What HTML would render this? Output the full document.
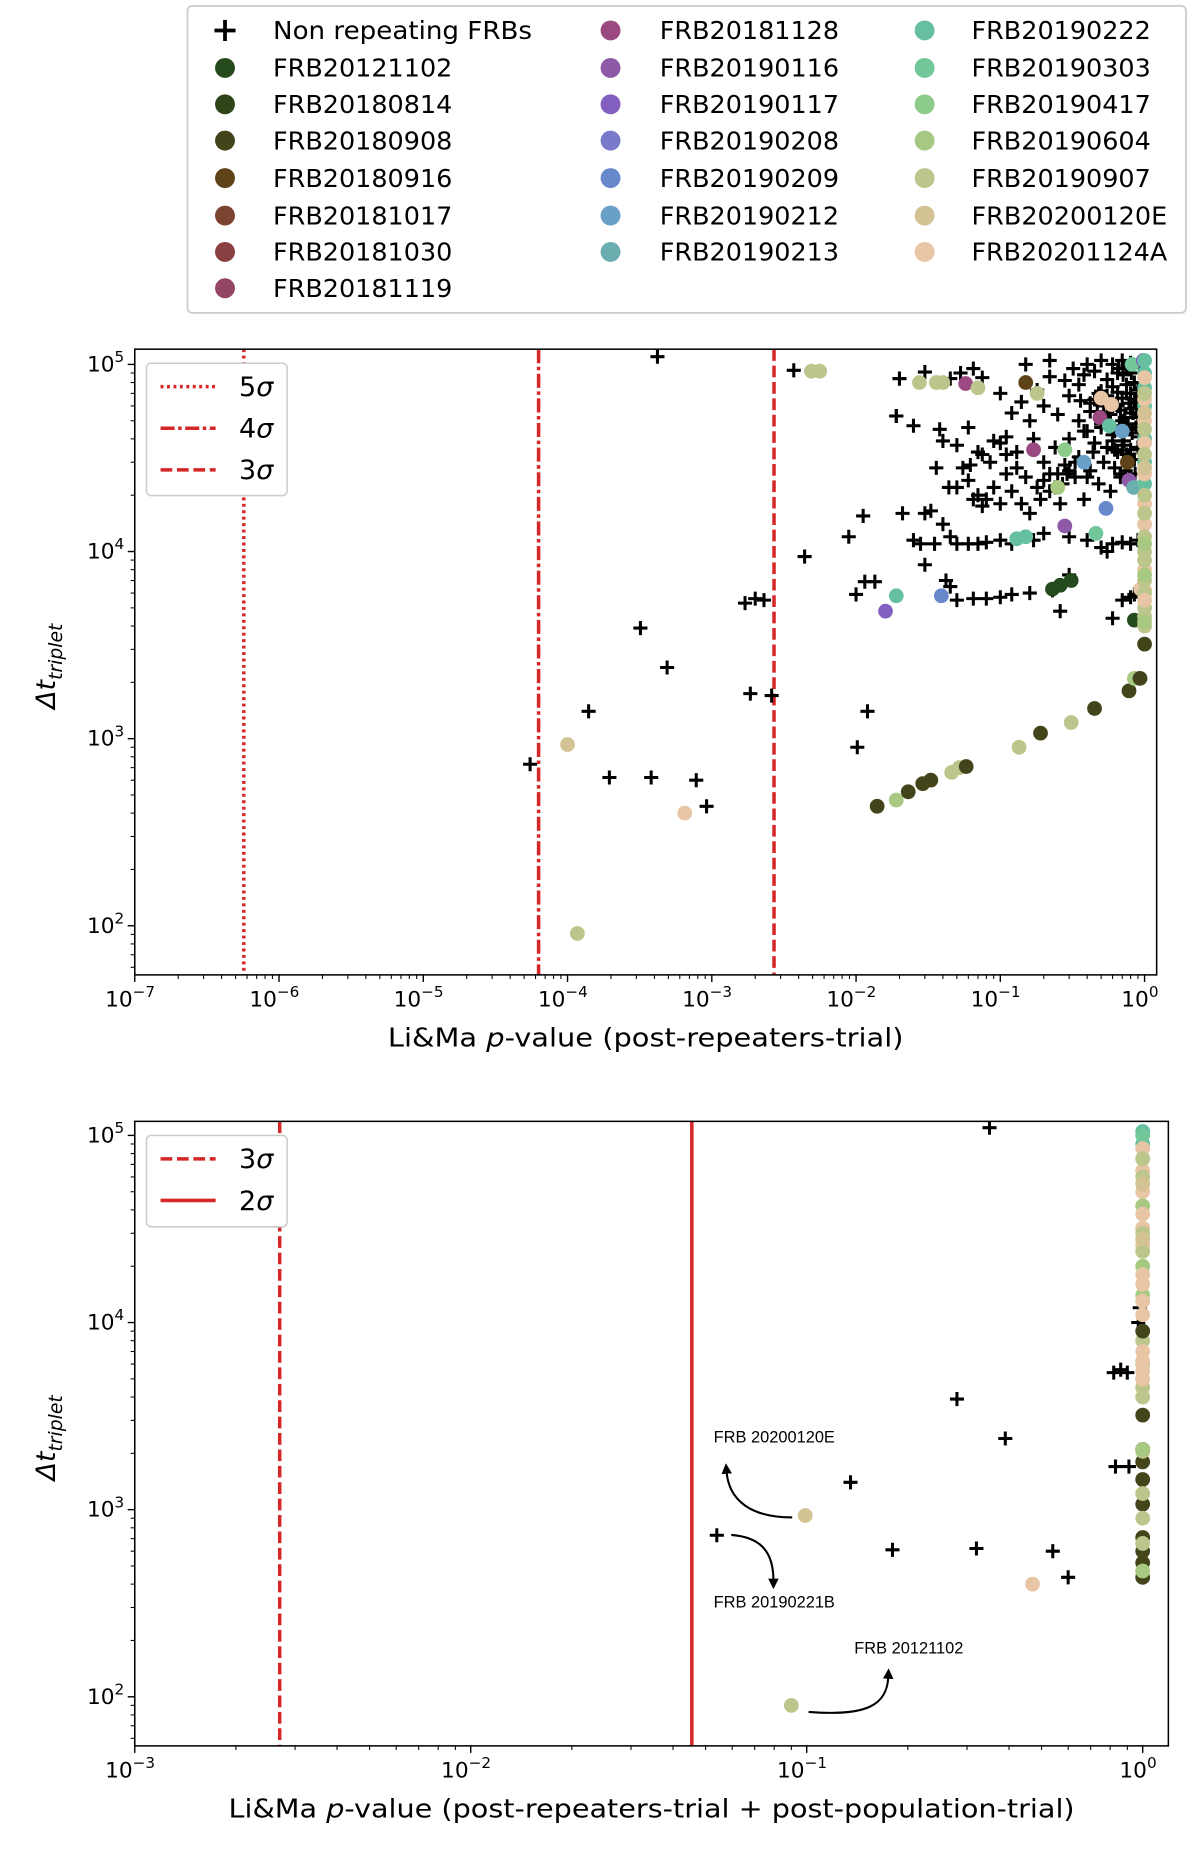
<!DOCTYPE html>
<html><head><meta charset="utf-8"><style>
html,body{margin:0;padding:0;background:#fff;}
svg{display:block;font-family:"DejaVu Sans","Liberation Sans",sans-serif;}
</style></head><body>
<svg id="fig" width="1200" height="1849" viewBox="0 0 1024 1578" preserveAspectRatio="none" xmlns="http://www.w3.org/2000/svg">
<defs>
<clipPath id="clipTop"><rect x="115" y="298" width="872" height="534"/></clipPath>
<clipPath id="clipBot"><rect x="115" y="957" width="882" height="533"/></clipPath>
<marker id="arrowHead" viewBox="0 0 10 10" refX="2" refY="5" markerWidth="5" markerHeight="5" orient="auto"><path d="M0,0 L10,5 L0,10 z" fill="#000"/></marker>
</defs>
<g id="legendMain"></g>
<g id="topPlot"></g>
<g id="botPlot"></g>
</svg>
<script>
const NS="http://www.w3.org/2000/svg";
const frbNames=["FRB20121102","FRB20180814","FRB20180908","FRB20180916","FRB20181017","FRB20181030","FRB20181119","FRB20181128","FRB20190116","FRB20190117","FRB20190208","FRB20190209","FRB20190212","FRB20190213","FRB20190222","FRB20190303","FRB20190417","FRB20190604","FRB20190907","FRB20200120E","FRB20201124A"];
const frbColors=["#254a1e","#2f4418","#44441a","#5e4218","#7a4430","#8a3f40","#944566","#9a4a80","#8e5aa8","#8360bf","#7a7acb","#6888cc","#69a0c8","#6aaeb0","#66c0a0","#72c79a","#8ccb8a","#a8c982","#bcc68c","#d3c394","#e8c5a5"];

// Top: non-repeating FRBs (p-value, dt)
const topNrP=[4.2e-4,3.7e-3,5.5e-5,1.4e-4,1.95e-4,3.8e-4,3.2e-4,4.9e-4,7.8e-4,9.2e-4,1.7e-3,2.0e-3,2.3e-3,1.85e-3,2.6e-3,4.4e-3,1.02e-2,1.2e-2,8.9e-3,1.12e-2,1.0e-2,1.15e-2,1.35e-2,2.0e-2,1.9e-2,
0.021,0.025,0.03,0.033,0.04,0.028,0.035,0.045,0.05,0.06,0.07,0.08,0.03,0.045,0.05,0.042,0.065,0.08,0.1,0.12,0.16,0.23,0.26,0.7,0.8,0.6,0.3,0.5,0.55,0.6,0.7,0.8,0.4,0.3,0.2,0.17,0.12,0.1,
0.05,0.055,0.06,0.065,0.07,0.075,0.08,0.085,0.09,0.1,0.11,0.12,0.13,0.14,0.15,0.16,0.18,0.2,0.22,0.24,0.26,0.28,0.3,0.33,0.35,0.38,0.4,0.42,0.45,0.48,0.5,0.52,0.55,0.58,0.6,0.62,0.65,0.68,0.7,0.72,0.75,0.78,0.8,0.82,0.85,0.88,0.9,0.92,0.95,0.96,
0.09,0.1,0.11,0.07,0.075,0.04,0.06,0.12,0.14,0.16,0.18,0.2,0.22,0.25,0.28,0.3,0.32,0.35,0.38,0.4,0.42,0.45,0.48,0.5,0.55,0.6,0.65,0.7,0.75,0.8,0.22,0.15,0.045,0.053,0.065,0.075,0.03,0.019,0.025,0.038,0.05,0.036,0.044,0.062,0.02,0.1,0.11,0.13,0.17,0.9,0.93,0.85,
0.45,0.5,0.55,0.6,0.65,0.7,0.75,0.8,0.85,0.9,0.47,0.52,0.58,0.63,0.68,0.73,0.78,0.83,0.88,0.93,0.5,0.56,0.62,0.67,0.72,0.77,0.82,0.87,0.92,0.55,0.6,0.65,0.7,0.75,0.8,0.85,0.9,0.35,0.38,0.42,0.44,0.33,0.36,0.4,0.3,0.27,0.25,0.22,0.2,0.19,0.24,0.29,0.62,0.68,0.74,0.86,0.66,0.71,0.76,0.81];
const topNrT=[1.1e5,9.3e4,730,1400,620,620,3900,2400,600,435,5300,5600,5500,1740,1700,9400,900,1400,1.2e4,1.55e4,5900,6900,6900,8.4e4,5.3e4,
1.6e4,1.15e4,1.6e4,1.65e4,1.4e4,1.1e4,1.1e4,1.2e4,1.1e4,1.1e4,1.1e4,1.12e4,8.5e3,6.5e3,5.5e3,7e3,5.6e3,5.6e3,5.7e3,5.9e3,6e3,6.2e3,4.8e3,5.5e3,5.7e3,4.4e3,7.5e3,1.05e4,1.0e4,1.1e4,1.12e4,1.1e4,1.15e4,1.2e4,1.25e4,1.15e4,1.1e4,1.15e4,
2.2e4,2.8e4,2.4e4,1.9e4,2.0e4,1.75e4,1.9e4,3.0e4,2.2e4,1.8e4,2.6e4,2.1e4,3.4e4,1.8e4,2.5e4,1.6e4,2.2e4,3.0e4,2.6e4,3.6e4,1.8e4,2.9e4,4.0e4,2.5e4,3.2e4,1.9e4,4.4e4,2.7e4,3.8e4,2.3e4,4.8e4,3.0e4,5.5e4,2.1e4,4.2e4,3.5e4,6.0e4,2.6e4,5.0e4,3.9e4,7.0e4,3.2e4,5.8e4,4.5e4,8.0e4,6.5e4,5.2e4,9.0e4,7.5e4,6.0e4,
3.9e4,3.8e4,4.1e4,3.4e4,3.3e4,3.9e4,4.6e4,5.5e4,6.3e4,5.0e4,7.3e4,6.0e4,8.6e4,5.4e4,8.2e4,6.8e4,9.5e4,7.8e4,8.8e4,1.0e5,6.2e4,9.2e4,7.0e4,1.05e5,8.3e4,1.0e5,9.0e4,1.05e5,9.5e4,1.02e5,1.05e5,1.0e5,8.4e4,9.0e4,9.5e4,8.5e4,9.1e4,5.3e4,4.7e4,4.5e4,3.7e4,2.8e4,2.2e4,2.9e4,8.4e4,7.0e4,3.3e4,2.8e4,4.0e4,1.15e4,1.1e4,5.9e3,
6.5e4,7.2e4,6.8e4,7.6e4,7.1e4,6.6e4,7.8e4,7.0e4,6.4e4,7.3e4,5.6e4,6.0e4,5.4e4,6.1e4,5.7e4,5.2e4,6.2e4,5.5e4,5.9e4,5.3e4,4.6e4,4.9e4,4.4e4,4.7e4,4.2e4,4.8e4,4.3e4,4.6e4,4.1e4,3.6e4,3.9e4,3.4e4,3.7e4,3.3e4,3.5e4,3.1e4,3.6e4,5.0e4,4.4e4,5.6e4,3.4e4,3.0e4,6.4e4,2.5e4,2.7e4,2.3e4,2.6e4,2.1e4,2.4e4,1.9e4,2.2e4,2.6e4,2.8e4,2.5e4,2.7e4,2.6e4,9.5e4,8.8e4,9.8e4,9.0e4];

// Top: repeaters (p-value, dt, FRB index)
const topRepP=[1.4e-2,1.9e-2,2.3e-2,2.9e-2,3.3e-2,4.6e-2,5.2e-2,5.8e-2,0.135,0.19,0.31,0.45,0.78,0.85,0.93,1.0,1.17e-4,1.0e-4,6.5e-4,4.9e-3,5.6e-3,
2.75e-2,3.6e-2,4.0e-2,0.0575,0.07,0.15,0.18,0.17,0.28,0.25,0.38,0.54,0.28,0.46,0.15,0.13,1.9e-2,1.6e-2,3.9e-2,0.23,0.26,0.31,0.49,0.57,0.7,0.5,0.59,0.82,0.98,0.78,0.84,0.76,0.94,0.85,
1.0,1.0,1.0,1.0,1.0,1.0,1.0,1.0,1.0,1.0,1.0,1.0,1.0,1.0,1.0,1.0,1.0,1.0,1.0,1.0,1.0,1.0,1.0,1.0,1.0,1.0,1.0,1.0,1.0,1.0,1.0,1.0,1.0,1.0,1.0];
const topRepT=[435,470,520,575,600,660,700,710,900,1070,1220,1450,1800,2100,2100,3200,91,930,400,9.2e4,9.2e4,
8.0e4,8.0e4,8.0e4,7.9e4,7.5e4,8.0e4,7.0e4,3.5e4,3.5e4,2.2e4,3.0e4,1.7e4,1.37e4,1.25e4,1.2e4,1.17e4,5.8e3,4.8e3,5.8e3,6.3e3,6.6e3,7.0e3,5.2e4,4.7e4,4.4e4,6.6e4,6.1e4,1.0e5,1.05e5,2.4e4,2.2e4,3.0e4,6.3e3,4.3e3,
1.05e5,9.0e4,7.5e4,6.0e4,4.0e4,3.0e4,2.3e4,8.5e4,6.5e4,5.0e4,3.8e4,2.6e4,1.8e4,1.4e4,8.0e3,6.2e3,7.0e4,4.5e4,3.3e4,2.0e4,1.6e4,1.2e4,1.0e4,9.0e3,7.0e3,5.0e3,4.5e3,4.0e3,5.5e4,2.8e4,1.1e4,7.5e3,4.2e3,6.0e3,5.5e3];
const topRepI=[2,17,2,2,2,18,18,2,18,2,18,2,2,17,2,2,18,19,20,18,18,
18,18,18,7,18,3,18,7,16,17,12,11,8,15,14,14,14,9,11,0,0,0,7,14,12,20,20,15,9,8,13,3,20,0,
14,14,14,14,14,14,14,20,20,20,20,20,20,20,20,20,18,18,18,18,18,18,18,18,18,18,18,18,19,19,17,17,17,18,20];

// Bottom: non-repeating FRBs
const botNrP=[0.35,0.82,0.86,0.9,0.28,0.39,0.135,0.054,0.18,0.32,0.54,0.6,0.83,0.91,0.97,0.98];
const botNrT=[1.1e5,5400,5600,5400,3900,2400,1400,730,610,620,600,435,1700,1700,1.0e4,1.2e4];
// Bottom: repeaters
const botRepP=[0.099,0.47,0.09,
1.0,1.0,1.0,1.0,1.0,1.0,1.0,1.0,1.0,1.0,1.0,1.0,1.0,1.0,1.0,1.0,1.0,1.0,1.0,1.0,1.0,1.0,1.0,1.0,1.0,1.0,1.0,1.0,1.0,1.0,1.0,1.0,1.0,1.0,1.0,1.0,1.0,1.0,1.0,1.0,1.0,1.0,1.0,1.0,1.0,1.0,1.0,1.0,1.0,1.0];
const botRepT=[930,400,90,
1.05e5,9.0e4,7.5e4,1.0e5,2.0e4,1.4e4,8.0e3,9.0e3,6.0e3,4.5e3,4.0e3,3.2e3,2.1e3,1.8e3,1.45e3,1.07e3,710,600,520,435,2.05e3,1.22e3,900,660,2.1e3,470,
8.5e4,6.5e4,5.0e4,4.2e4,3.8e4,3.2e4,2.6e4,1.8e4,1.6e4,1.3e4,1.1e4,7.0e3,6.2e3,5.5e3,5.0e3,3.0e4,2.4e4,7.5e4,6.0e4,5.5e4,2.8e4];
const botRepI=[19,20,18,
14,14,18,15,17,17,18,2,18,18,18,2,2,2,2,2,2,2,2,2,18,18,18,18,17,17,
20,20,20,17,20,20,20,20,20,20,20,20,20,20,20,18,18,18,18,19,19];

// tick label exponents
const topXExp=[-7,-6,-5,-4,-3,-2,-1,0];
const botXExp=[-3,-2,-1,0];
const yExp=[2,3,4,5];

const svg=document.getElementById('fig');
function el(tag,attrs,parent){const e=document.createElementNS(NS,tag);for(const k in attrs)e.setAttribute(k,attrs[k]);parent.appendChild(e);return e;}

function makeAxes(g,cfg){
  const xs=v=>cfg.x0+(Math.log10(v)-cfg.xmin)*cfg.xdec;
  const ys=v=>cfg.y5+(5-Math.log10(v))*cfg.ydec;
  const data=el('g',{'clip-path':'url(#'+cfg.clip+')'},g);
  cfg.lines.forEach(L=>{
    const ln=el('line',{x1:xs(L.p),x2:xs(L.p),y1:cfg.top,y2:cfg.bot,stroke:'#d62728','stroke-width':3,'stroke-dasharray':L.dash},data);
    
    
  });
  cfg.nrP.forEach((p,i)=>{
    const x=xs(p),y=ys(cfg.nrT[i]);
    const c=el('path',{d:`M${x-6},${y}H${x+6}M${x},${y-6}V${y+6}`,stroke:'#000','stroke-width':2.6},data);
    
    
  });
  cfg.rP.forEach((p,i)=>{
    const c=el('ellipse',{cx:xs(p),cy:ys(cfg.rT[i]),rx:6.3,ry:6.3,fill:frbColors[cfg.rI[i]]},data);
    
    
  });
  const fr=el('rect',{x:cfg.x0,y:cfg.top,width:cfg.right-cfg.x0,height:cfg.bot-cfg.top,fill:'none',stroke:'#000','stroke-width':1.3},g);
  
  
  const xg=el('g',{},g);
  
  
  for(let d=cfg.xmin;d<=0.1;d++){
    for(let m=1;m<10;m++){
      const v=m*Math.pow(10,d);const x=xs(v);
      if(x>cfg.right)break;
      el('line',{x1:x,x2:x,y1:cfg.bot,y2:cfg.bot+(m==1?6:3.5),stroke:'#000','stroke-width':m==1?1.2:0.9},xg);
    }
  }
  cfg.xExp.forEach(e=>{
    const t=el('text',{x:xs(Math.pow(10,e))-4,y:cfg.bot+27,'font-size':18.5,'text-anchor':'middle'},xg);
    t.innerHTML='10<tspan dy="-8" font-size="13">'+(e<0?'−'+(-e):e)+'</tspan>';
    
    
  });
  const yg=el('g',{},g);
  
  
  for(let d=1;d<=5;d++){for(let m=1;m<10;m++){
    const v=m*Math.pow(10,d);const y=ys(v);
    if(y>cfg.bot||y<cfg.top)continue;
    el('line',{x1:cfg.x0,x2:cfg.x0-(m==1?6:3.5),y1:y,y2:y,stroke:'#000','stroke-width':m==1?1.2:0.9},yg);
  }}
  yExp.forEach(e=>{
    const t=el('text',{x:cfg.x0-9,y:ys(Math.pow(10,e))+6,'font-size':18.5,'text-anchor':'end'},yg);
    t.innerHTML='10<tspan dy="-8" font-size="13">'+e+'</tspan>';
    
    
  });
  const yl=el('text',{transform:`translate(${cfg.x0-68},${(cfg.top+cfg.bot)/2+40}) rotate(-90)`,'font-size':23},g);
  yl.innerHTML='<tspan font-style="italic">Δt</tspan><tspan font-style="italic" font-size="16" dy="6">triplet</tspan>';
  
  
  const xl=el('text',{x:cfg.xlabelX,y:cfg.bot+61,'font-size':22,'text-anchor':'middle',textLength:cfg.xlabelW,lengthAdjust:'spacingAndGlyphs'},g);
  xl.innerHTML=cfg.xlabel;
  
  
  const lg=el('g',{},g);
  
  
  const h=cfg.lines.length*35+8;
  el('rect',{x:125,y:cfg.top+12,width:120,height:h,rx:4,fill:'#fff',stroke:'#ccc','stroke-width':1.3},lg);
  cfg.lines.forEach((L,i)=>{
    const y=cfg.top+32+i*35.5;
    el('line',{x1:137,x2:184,y1:y,y2:y,stroke:'#d62728','stroke-width':3,'stroke-dasharray':L.dash},lg);
    const t=el('text',{x:204,y:y+8,'font-size':23},lg);
    t.innerHTML=L.label+'<tspan font-style="italic">σ</tspan>';
    
    
  });
  return {xs,ys};
}

makeAxes(document.getElementById('topPlot'),{x0:115,right:987,top:298,bot:832,xmin:-7,xdec:123.1,y5:311,ydec:159.7,clip:'clipTop',
  nrP:topNrP,nrT:topNrT,rP:topRepP,rT:topRepT,rI:topRepI,xExp:topXExp,
  lines:[{p:5.7e-7,dash:'2.5,3',label:'5',name:'5-sigma-line'},{p:6.3e-5,dash:'12,3,3,3',label:'4',name:'4-sigma-line'},{p:2.7e-3,dash:'10,4',label:'3',name:'3-sigma-line'}],
  xlabelX:551,xlabelW:440,xlabel:'Li&amp;Ma  <tspan font-style="italic">p</tspan>-value (post-repeaters-trial)'});
makeAxes(document.getElementById('botPlot'),{x0:115,right:997,top:957,bot:1490,xmin:-3,xdec:286.7,y5:969,ydec:159.7,clip:'clipBot',
  nrP:botNrP,nrT:botNrT,rP:botRepP,rT:botRepT,rI:botRepI,xExp:botXExp,
  lines:[{p:2.7e-3,dash:'10,4',label:'3',name:'3-sigma-line'},{p:0.0455,dash:'none',label:'2',name:'2-sigma-line'}],
  xlabelX:556,xlabelW:722,xlabel:'Li&amp;Ma  <tspan font-style="italic">p</tspan>-value (post-repeaters-trial + post-population-trial)'});

const bg=document.getElementById('botPlot');
[['FRB 20200120E',609,1231],['FRB 20190221B',609,1372],['FRB 20121102',729,1411]].forEach(a=>{
  const t=el('text',{x:a[1],y:a[2],'font-size':14,'font-family':'Liberation Sans, sans-serif'},bg);
  t.textContent=a[0];
  
  
});
[['M676,1295 C640,1295 622,1280 620,1256'],['M624,1310 C650,1312 660,1325 660,1349'],['M690,1461 C740,1465 757,1455 758,1431']].forEach(a=>{
  const p=el('path',{d:a[0],fill:'none',stroke:'#000','stroke-width':1.8,'marker-end':'url(#arrowHead)'},bg);
  
  
});

const lg=document.getElementById('legendMain');
el('rect',{x:160,y:5,width:852,height:262,rx:4,fill:'#fff',stroke:'#ccc','stroke-width':1.5},lg);
const cols=[[192,233],[521,563],[789,829]];
const rowsY=[26,58,89,120,152,184,215,246];
const entries=[{name:'Non repeating FRBs',c:-1}].concat(frbNames.map((n,i)=>({name:n,c:i})));
entries.forEach((e,k)=>{
  const col=k<8?0:(k<15?1:2);const row=k<8?k:(k<15?k-8:k-15);
  const g=el('g',{},lg);
  
  
  const mx=cols[col][0],y=rowsY[row];
  if(e.c<0)el('path',{d:`M${mx-9},${y}H${mx+9}M${mx},${y-9}V${y+9}`,stroke:'#000','stroke-width':3.2},g);
  else el('circle',{cx:mx,cy:y,r:8.5,fill:frbColors[e.c]},g);
  const t=el('text',{x:cols[col][1],y:y+7.5,'font-size':21,textLength:Math.round(e.name.length*(e.c<0?12.3:13.9)),lengthAdjust:'spacingAndGlyphs'},g);
  t.textContent=e.name;
});
</script>
</body></html>
